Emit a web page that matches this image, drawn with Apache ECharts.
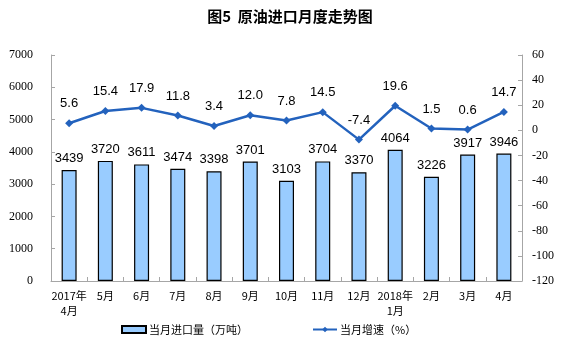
<!DOCTYPE html>
<html>
<head>
<meta charset="utf-8">
<script src="https://cdn.jsdelivr.net/npm/echarts@6/dist/echarts.min.js"></script>
<style>
  html, body { margin: 0; padding: 0; background: #fff; }
  #chart { width: 561px; height: 345px; }
</style>
</head>
<body>
<div id="chart"></div>
<script>
// Monthly crude oil imports (10k tonnes) and year-on-year growth (%)
const months = ['2017年\n4月', '5月', '6月', '7月', '8月', '9月', '10月', '11月', '12月', '2018年\n1月', '2月', '3月', '4月'];
const importVolume = [3439, 3720, 3611, 3474, 3398, 3701, 3103, 3704, 3370, 4064, 3226, 3917, 3946];
const growthRate = [5.6, 15.4, 17.9, 11.8, 3.4, 12.0, 7.8, 14.5, -7.4, 19.6, 1.5, 0.6, 14.7];

const serifFont = '"Liberation Serif", "Times New Roman", serif';
const cjkFont = '"Noto Sans CJK SC", sans-serif';
const labelFont = '"Liberation Sans", Arial, sans-serif';

const chart = echarts.init(document.getElementById('chart'), null, { renderer: 'canvas' });
chart.setOption({
  animation: false,
  backgroundColor: '#ffffff',
  title: {
    text: '图5  原油进口月度走势图',
    top: 4,
    left: 285,
    textAlign: 'center',
    textStyle: { fontFamily: cjkFont, fontSize: 15, fontWeight: 'bold', color: '#000' }
  },
  legend: {
    bottom: 5,
    left: 116,
    itemGap: 64,
    itemWidth: 24,
    itemHeight: 7,
    textStyle: { fontFamily: cjkFont, fontSize: 11, color: '#000', padding: [0, 0, 0, -2] },
    data: [
      { name: '当月进口量（万吨）', icon: 'rect' },
      { name: '当月增速（%）' }
    ]
  },
  grid: { left: 51, right: 39, top: 55, bottom: 64 },
  xAxis: {
    type: 'category',
    data: months,
    axisLine: { lineStyle: { color: '#a6a6a6' } },
    axisTick: { show: true, length: 4, inside: true, lineStyle: { color: '#a6a6a6' } },
    axisLabel: { fontFamily: cjkFont, fontSize: 11, color: '#000', margin: 7, lineHeight: 15, interval: 0 }
  },
  yAxis: [
    {
      type: 'value', min: 0, max: 7000, interval: 1000,
      splitLine: { show: false },
      axisLine: { show: true, lineStyle: { color: '#a6a6a6' } },
      axisTick: { show: true, inside: true, length: 4, lineStyle: { color: '#a6a6a6' } },
      axisLabel: { fontFamily: serifFont, fontSize: 12, color: '#000', margin: 18, formatter: v => String(v) }
    },
    {
      type: 'value', min: -120, max: 60, interval: 20,
      splitLine: { show: false },
      axisLine: { show: true, lineStyle: { color: '#a6a6a6' } },
      axisTick: { show: true, inside: true, length: 4, lineStyle: { color: '#a6a6a6' } },
      axisLabel: { fontFamily: serifFont, fontSize: 12, color: '#000', margin: 10, formatter: v => String(v) }
    }
  ],
  series: [
    {
      name: '当月进口量（万吨）',
      type: 'bar',
      yAxisIndex: 0,
      data: importVolume,
      barWidth: 15,
      itemStyle: { color: '#99ccff', borderColor: '#000', borderWidth: 1.2 },
      label: {
        show: true, position: 'top', distance: 5,
        fontFamily: labelFont, fontSize: 13, color: '#000'
      }
    },
    {
      name: '当月增速（%）',
      type: 'line',
      yAxisIndex: 1,
      data: growthRate,
      symbol: 'diamond',
      symbolSize: 8,
      lineStyle: { color: '#2362bd', width: 2.5 },
      itemStyle: { color: '#2362bd' },
      label: {
        show: true, position: 'top', distance: 9,
        fontFamily: labelFont, fontSize: 13, color: '#000',
        formatter: p => p.value.toFixed(1)
      }
    }
  ]
});
</script>
</body>
</html>
